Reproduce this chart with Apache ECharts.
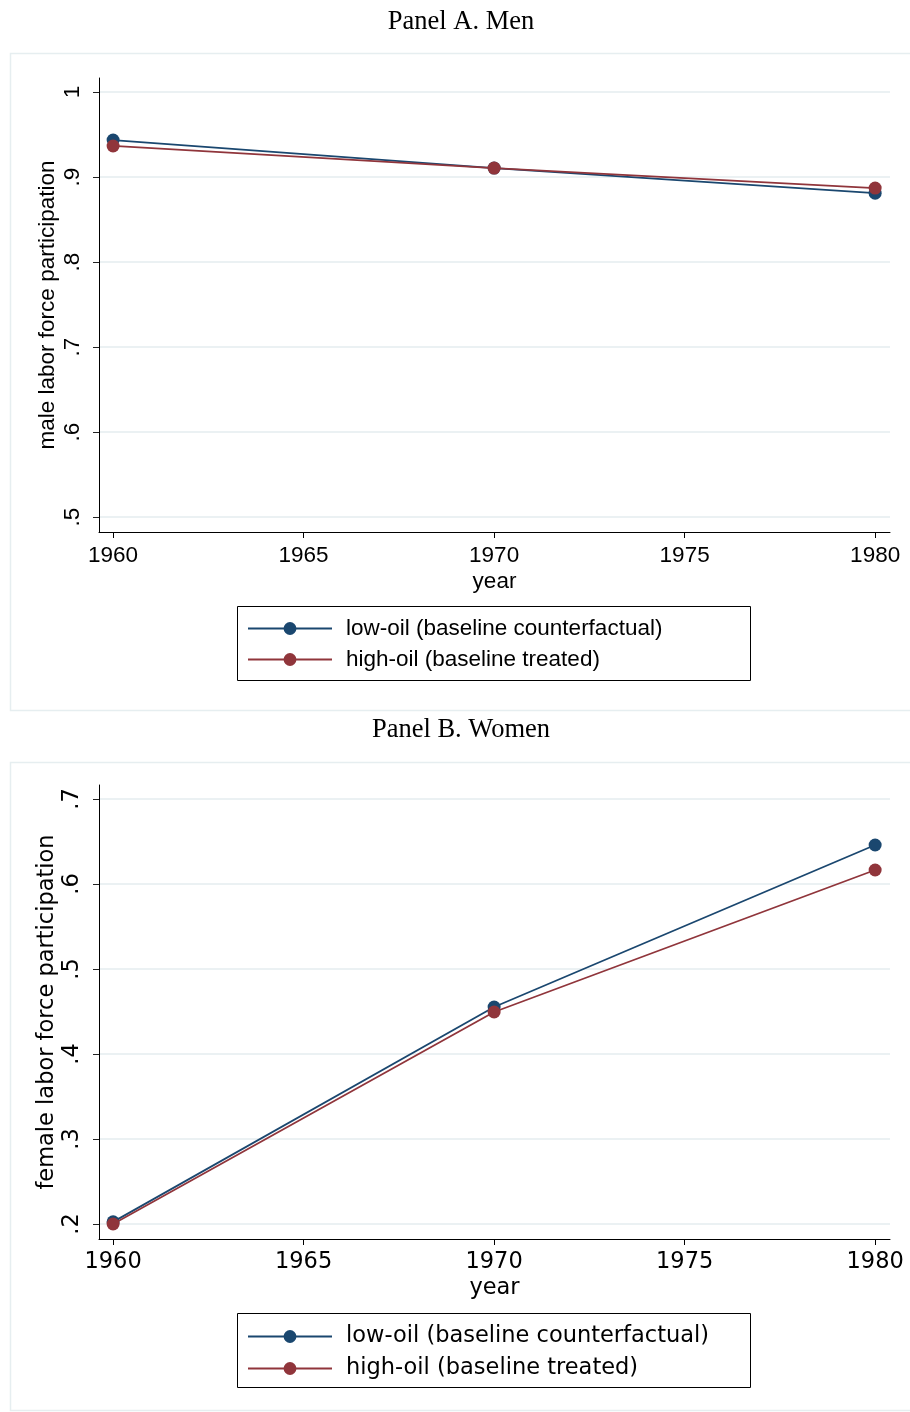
<!DOCTYPE html>
<html>
<head>
<meta charset="utf-8">
<script src="https://cdn.jsdelivr.net/npm/echarts@6/dist/echarts.min.js"></script>
<style>
  html, body { margin: 0; padding: 0; background: #fff; }
  #chart { width: 910px; height: 1412px; }
</style>
</head>
<body>
<div id="chart"></div>
<script>
// Census years on the horizontal axis
const years = [1960, 1970, 1980];
const xTicks = [1960, 1965, 1970, 1975, 1980];

// Panel A: male labor force participation
const menLowOil = [0.9435, 0.9105, 0.881];
const menHighOil = [0.9365, 0.9105, 0.887];
const menTicks = [0.5, 0.6, 0.7, 0.8, 0.9, 1];
const menTickLabels = ['.5', '.6', '.7', '.8', '.9', '1'];

// Panel B: female labor force participation
const womenLowOil = [0.2025, 0.4553, 0.6459];
const womenHighOil = [0.2, 0.4494, 0.6165];
const womenTicks = [0.2, 0.3, 0.4, 0.5, 0.6, 0.7];
const womenTickLabels = ['.2', '.3', '.4', '.5', '.6', '.7'];

const seriesNames = ['low-oil (baseline counterfactual)', 'high-oil (baseline treated)'];
const NAVY = '#1a476f';
const MAROON = '#90353b';
const GRIDLINE = '#e4ecef';
const FS = 22.5;

function pairs(xs, ys) { return xs.map((x, i) => [x, ys[i]]); }

function tickLabel(values, labels) {
  return v => {
    const i = values.findIndex(t => Math.abs(t - v) < 1e-6);
    return i >= 0 ? labels[i] : '';
  };
}

function xAxisFor(gridIndex, font) {
  return {
    type: 'value', gridIndex,
    min: 1959.63, max: 1980.39,
    name: 'year', nameLocation: 'middle', nameGap: 38,
    nameTextStyle: { fontFamily: font, fontSize: FS, color: '#000' },
    axisLine: { show: true, onZero: false, lineStyle: { color: '#000', width: 1 } },
    axisTick: { show: true, length: 6, customValues: xTicks, lineStyle: { color: '#000' } },
    axisLabel: { customValues: xTicks, fontFamily: font, fontSize: FS, color: '#000', margin: 12,
                 formatter: v => String(Math.round(v)) },
    splitLine: { show: false }
  };
}

function yAxisFor(gridIndex, font, min, max, ticks, labels, name) {
  return {
    type: 'value', gridIndex, min, max,
    name, nameLocation: 'middle', nameGap: 40, nameRotate: 90, nameMoveOverlap: false,
    nameTextStyle: { fontFamily: font, fontSize: FS, color: '#000' },
    axisLine: { show: true, onZero: false, lineStyle: { color: '#000', width: 1 } },
    axisTick: { show: true, length: 6, customValues: ticks, lineStyle: { color: '#222' } },
    axisLabel: { customValues: ticks, rotate: 90, fontFamily: font, fontSize: FS, color: '#000',
                 margin: 15, formatter: tickLabel(ticks, labels) },
    splitLine: { show: true, lineStyle: { color: GRIDLINE, width: 1.5 } }
  };
}

function lineSeries(name, color, data, idx) {
  return {
    name, type: 'line', xAxisIndex: idx, yAxisIndex: idx, data,
    symbol: 'circle', symbolSize: 13, showSymbol: true,
    lineStyle: { color, width: 1.8 }, itemStyle: { color },
    z: name === seriesNames[1] ? 3 : 2
  };
}

function legendFor(top, font, gap) {
  return {
    orient: 'vertical', left: 247, top,
    data: seriesNames, itemWidth: 84, itemHeight: 16, itemGap: gap,
    textStyle: { fontFamily: font, fontSize: FS, color: '#000', padding: [0, 0, 0, 9] },
    selectedMode: false, padding: 0
  };
}

const titleStyle = { fontFamily: 'Liberation Serif', fontSize: 26.5, fontWeight: 'normal', color: '#000' };

const chart = echarts.init(document.getElementById('chart'), null, { renderer: 'canvas' });

chart.setOption({
  animation: false,
  backgroundColor: '#fff',
  title: [
    { text: 'Panel A. Men', left: 456, textAlign: 'center', top: 4, textStyle: titleStyle },
    { text: 'Panel B. Women', left: 456, textAlign: 'center', top: 712, textStyle: titleStyle }
  ],
  graphic: [
    { type: 'rect', shape: { x: 10.5, y: 53.5, width: 920, height: 657 }, silent: true,
      style: { fill: 'none', stroke: '#e6eef0', lineWidth: 1.5 }, z: -1 },
    { type: 'rect', shape: { x: 10.5, y: 762.5, width: 920, height: 648 }, silent: true,
      style: { fill: 'none', stroke: '#e6eef0', lineWidth: 1.5 }, z: -1 },
    { type: 'rect', shape: { x: 237.5, y: 606.5, width: 513, height: 74 }, silent: true,
      style: { fill: 'none', stroke: '#000', lineWidth: 1 } },
    { type: 'rect', shape: { x: 237.5, y: 1313.5, width: 513, height: 74 }, silent: true,
      style: { fill: 'none', stroke: '#000', lineWidth: 1 } }
  ],
  legend: [legendFor(617, 'Liberation Sans', 8), legendFor(1325, 'DejaVu Sans', 9)],
  grid: [
    { left: 99, top: 78, width: 791, height: 454 },
    { left: 99, top: 785, width: 791, height: 454 }
  ],
  xAxis: [xAxisFor(0, 'Liberation Sans'), xAxisFor(1, 'DejaVu Sans')],
  yAxis: [
    yAxisFor(0, 'Liberation Sans', 0.48235, 1.01647, menTicks, menTickLabels, 'male labor force participation'),
    yAxisFor(1, 'DejaVu Sans', 0.18235, 0.71647, womenTicks, womenTickLabels, 'female labor force participation')
  ],
  series: [
    lineSeries(seriesNames[0], NAVY, pairs(years, menLowOil), 0),
    lineSeries(seriesNames[1], MAROON, pairs(years, menHighOil), 0),
    lineSeries(seriesNames[0], NAVY, pairs(years, womenLowOil), 1),
    lineSeries(seriesNames[1], MAROON, pairs(years, womenHighOil), 1)
  ]
});
</script>
</body>
</html>
